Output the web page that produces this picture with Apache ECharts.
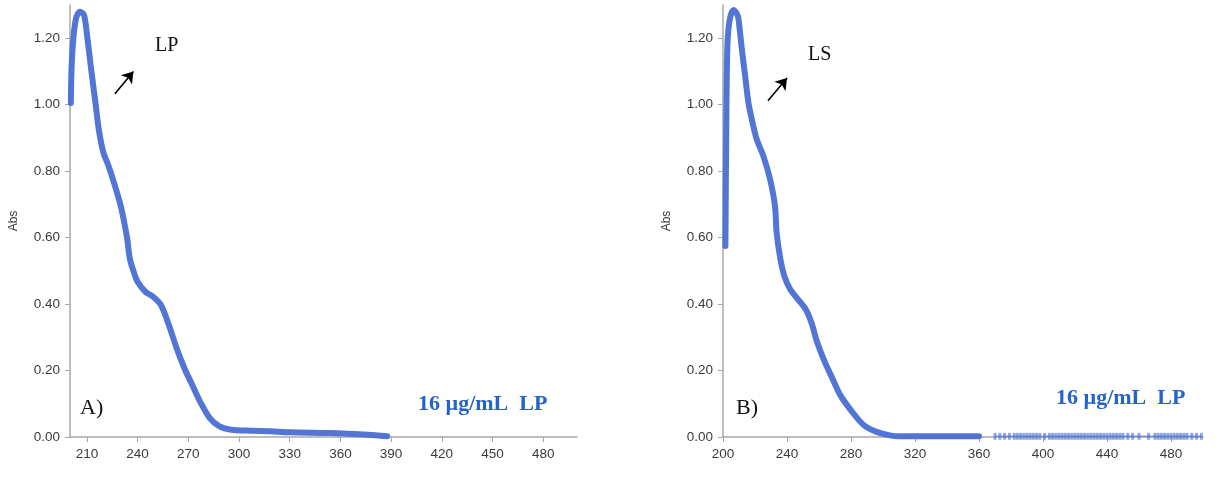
<!DOCTYPE html>
<html>
<head>
<meta charset="utf-8">
<script src="https://cdn.jsdelivr.net/npm/echarts@6/dist/echarts.min.js"></script>
<style>
  html, body { margin: 0; padding: 0; background: #fff; }
  #chart { width: 1224px; height: 480px; }
</style>
</head>
<body>
<div id="chart"></div>
<script>
// panel A (LP) – wavelength (nm) and absorbance
const lpWavelength = [200.5, 201, 202, 203.6, 205.9, 208.3, 210.3, 212.2, 215.2, 217.2, 219.7, 222.7, 226.6, 230, 232.5, 233.9,
  235.4, 237.7, 240, 244.6, 249.2, 253.8, 258.5, 263.1, 267.7, 272.3, 276.9, 282.7, 288.5, 295.4, 307, 318.5, 330, 353, 364.6, 376, 387.7]
const lpAbs = [1.005, 1.12, 1.2, 1.26, 1.28, 1.27, 1.2, 1.12, 1.0, 0.92, 0.857, 0.817, 0.756, 0.696, 0.635, 0.595,
  0.537, 0.497, 0.467, 0.437, 0.422, 0.397, 0.337, 0.267, 0.207, 0.157, 0.107, 0.057, 0.032, 0.022, 0.019, 0.017, 0.014, 0.012, 0.01, 0.007, 0.002]

// panel B (LS)
const lsWavelength = [201.5, 202, 202.7, 204, 206.5, 208.5, 209.6, 211.7, 213.8, 215.8, 217.9, 221, 225.2, 229.4, 232.5, 233.5,
  235.9, 238.3, 241.9, 246.7, 251.6, 255.2, 258.8, 263.6, 268.4, 273.3, 280.5, 287.7, 295, 302.2, 309.4, 330, 360]
const lsAbs = [0.575, 0.9, 1.17, 1.25, 1.285, 1.275, 1.26, 1.17, 1.088, 1.009, 0.958, 0.897, 0.846, 0.776, 0.695, 0.616,
  0.534, 0.485, 0.445, 0.415, 0.385, 0.345, 0.286, 0.226, 0.176, 0.126, 0.077, 0.037, 0.017, 0.007, 0.002, 0.002, 0.002]

// sparse noisy tail of panel B after 360 nm
const lsTailWavelength = [370, 373, 376, 379, 382, 384, 386, 388, 390, 392, 394, 396, 398, 401, 404, 406, 408, 410, 412, 414,
  416, 418, 420, 422, 424, 426, 428, 430, 432, 434, 436, 438, 440, 442, 444, 446, 448, 450, 453, 456, 460, 466, 470, 472,
  474, 476, 478, 480, 482, 484, 486, 488, 490, 493, 496, 499]
const lsTailAbs = lsTailWavelength.map(() => 0.002)

const lpTicks = [210, 240, 270, 300, 330, 360, 390, 420, 450, 480]
const lsTicks = [200, 240, 280, 320, 360, 400, 440, 480]
const absTicks = [0, 0.2, 0.4, 0.6, 0.8, 1.0, 1.2]

const lineColor = '#4a6fd4'
const axisGray = '#a8a8a8'
const labelFont = '"Liberation Sans", Arial, sans-serif'
const serif = '"Liberation Serif", "Times New Roman", serif'

const zip = (xs, ys) => xs.map((x, i) => [x, ys[i]])

function xAxisFor(gridIndex, ticks) {
  return {
    type: 'value',
    gridIndex,
    min: 200,
    max: 500,
    splitLine: { show: false },
    axisLine: { lineStyle: { color: axisGray, width: 1.5 } },
    axisTick: { customValues: ticks, length: 5, lineStyle: { color: axisGray } },
    axisLabel: { customValues: ticks, margin: 10, color: '#3a3a3a', fontSize: 13.5, fontFamily: labelFont },
  }
}

function yAxisFor(gridIndex) {
  return {
    type: 'value',
    gridIndex,
    min: 0,
    max: 1.3,
    name: 'Abs',
    nameLocation: 'middle',
    nameGap: 50,
    nameTextStyle: { color: '#3a3a3a', fontSize: 12, fontFamily: labelFont },
    splitLine: { show: false },
    axisLine: { show: true, lineStyle: { color: axisGray, width: 1.5 } },
    axisTick: { show: true, customValues: absTicks, length: 5, lineStyle: { color: axisGray } },
    axisLabel: {
      customValues: absTicks,
      margin: 10,
      color: '#3a3a3a',
      fontSize: 13.5,
      fontFamily: labelFont,
      formatter: (v) => v.toFixed(2),
    },
  }
}

function arrow(from, to) {
  return {
    silent: true,
    symbol: ['none', 'arrow'],
    symbolSize: 11,
    label: { show: false },
    lineStyle: { color: '#000', width: 1.6, type: 'solid' },
    data: [[{ coord: from }, { coord: to }]],
  }
}

const chart = echarts.init(document.getElementById('chart'))

chart.setOption({
  animation: false,
  backgroundColor: '#fff',
  grid: [
    { left: 70, top: 5, width: 507, height: 432 },
    { left: 723, top: 5, width: 480, height: 432 },
  ],
  xAxis: [xAxisFor(0, lpTicks), xAxisFor(1, lsTicks)],
  yAxis: [yAxisFor(0), yAxisFor(1)],
  series: [
    {
      name: 'LP',
      type: 'line',
      xAxisIndex: 0,
      yAxisIndex: 0,
      data: zip(lpWavelength, lpAbs),
      smooth: 0.3,
      showSymbol: false,
      lineStyle: { color: lineColor, width: 6, cap: 'round', join: 'round', opacity: 0.95 },
      markLine: arrow([226.6, 1.033], [237.5, 1.1]),
    },
    {
      name: 'LS',
      type: 'line',
      xAxisIndex: 1,
      yAxisIndex: 1,
      data: zip(lsWavelength, lsAbs),
      smooth: 0.3,
      showSymbol: false,
      lineStyle: { color: lineColor, width: 6, cap: 'round', join: 'round', opacity: 0.95 },
      markLine: arrow([228.1, 1.012], [240, 1.08]),
    },
    {
      name: 'LS tail',
      type: 'line',
      xAxisIndex: 1,
      yAxisIndex: 1,
      data: zip(lsTailWavelength, lsTailAbs),
      showSymbol: true,
      symbol: 'rect',
      symbolSize: [3, 7],
      itemStyle: { color: lineColor, opacity: 0.6 },
      lineStyle: { color: lineColor, width: 2, opacity: 0.5 },
    },
  ],
  graphic: [
    { type: 'text', left: 155, top: 36, style: { text: 'LP', fontSize: 20, fontFamily: serif, fill: '#111' } },
    { type: 'text', left: 808, top: 45, style: { text: 'LS', fontSize: 20, fontFamily: serif, fill: '#111' } },
    { type: 'text', left: 80, top: 397, style: { text: 'A)', fontSize: 22, fontFamily: serif, fill: '#111' } },
    { type: 'text', left: 736, top: 397, style: { text: 'B)', fontSize: 22, fontFamily: serif, fill: '#111' } },
    { type: 'text', left: 418, top: 393, style: { text: '16 µg/mL  LP', fontSize: 22, fontWeight: 'bold', fontFamily: serif, fill: '#2463c9' } },
    { type: 'text', left: 1056, top: 387, style: { text: '16 µg/mL  LP', fontSize: 22, fontWeight: 'bold', fontFamily: serif, fill: '#2463c9' } },
  ],
})
</script>
</body>
</html>
